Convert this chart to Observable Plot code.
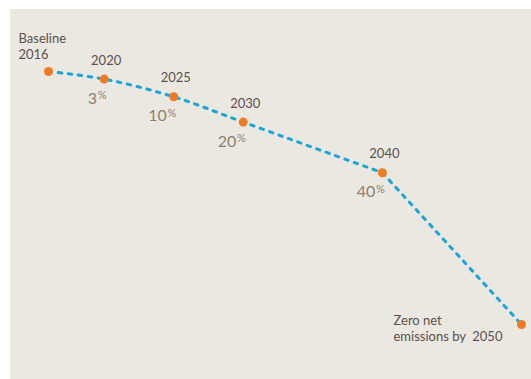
<!DOCTYPE html>
<html>
<head>
<meta charset="utf-8">
<script src="https://cdn.jsdelivr.net/npm/d3@7"></script>
<script src="https://cdn.jsdelivr.net/npm/@observablehq/plot@0.6"></script>
<style>
  html, body { margin: 0; padding: 0; background: #ffffff; }
  #wrap { position: relative; width: 531px; height: 379px; }
  #bg { position: absolute; left: 10px; top: 9px; width: 521px; height: 370px; background: #ebe8e2; }
  #chart { position: absolute; left: 0; top: 0; }
</style>
</head>
<body>
<div id="wrap"><div id="bg"></div><div id="chart"></div></div>
<script>
// Milestones on the path to zero net emissions
const years = [2016, 2020, 2025, 2030, 2040, 2050];
// Emissions as % of the 2016 baseline
const emissions = [100, 97, 90, 80, 60, 0];
// Reduction labels (% below baseline)
const reductions = [null, 3, 10, 20, 40, null];
const yearLabels = ["Baseline\n2016", "2020", "2025", "2030", "2040", "Zero net\nemissions by\u00a0 2050"];

const data = years.map((year, i) => ({
  year, emissions: emissions[i], cut: reductions[i], label: yearLabels[i]
}));
const middle = data.filter(d => d.year > 2016 && d.year < 2050);
const pct = data.filter(d => d.cut != null);

const blue = "#18a6d9";
const orange = "#ef7c22";
const dark = "#5b504b";
const light = "#8f7f6d";

const lineStyle = {x: "year", y: "emissions", stroke: blue, strokeWidth: 3, strokeLinecap: "round", strokeDasharray: "3.5,6.5"};

const chart = Plot.plot({
  width: 531,
  height: 379,
  marginLeft: 48,
  marginRight: 10,
  marginTop: 71,
  marginBottom: 55,
  x: {domain: [2016, 2050], axis: null},
  y: {domain: [0, 100], axis: null},
  style: {background: "transparent", fontFamily: "Lato, 'Open Sans', sans-serif", overflow: "visible"},
  marks: [
    Plot.line(data.filter(d => d.year <= 2040), {...lineStyle, curve: "catmull-rom"}),
    Plot.line(data.filter(d => d.year >= 2040), {...lineStyle, curve: "linear"}),
    Plot.dot(data, {x: "year", y: "emissions", r: 4.5, fill: orange}),
    Plot.text(middle, {x: "year", y: "emissions", text: "label", dx: 2, dy: -14.5, lineAnchor: "bottom", fontSize: 13, fill: dark}),
    Plot.text(data.filter(d => d.year === 2016), {x: "year", y: "emissions", text: "label", textAnchor: "start", dx: -30, dy: -12.7, lineAnchor: "bottom", lineHeight: 1.18, fontSize: 13, fill: dark}),
    Plot.text(data.filter(d => d.year === 2050), {x: "year", y: "emissions", text: "label", textAnchor: "start", dx: -128, dy: 16.4, lineAnchor: "bottom", lineHeight: 1.22, fontSize: 13, fill: dark}),
    Plot.text(pct, {x: "year", y: "emissions", text: d => String(d.cut), textAnchor: "end", dx: -7, dy: 24.6, lineAnchor: "bottom", fontSize: 16, fill: light}),
    Plot.text(pct, {x: "year", y: "emissions", text: () => "%", textAnchor: "start", dx: -6.3, dy: 20, lineAnchor: "bottom", fontSize: 11, fill: light})
  ]
});
document.getElementById("chart").appendChild(chart);
</script>
</body>
</html>
